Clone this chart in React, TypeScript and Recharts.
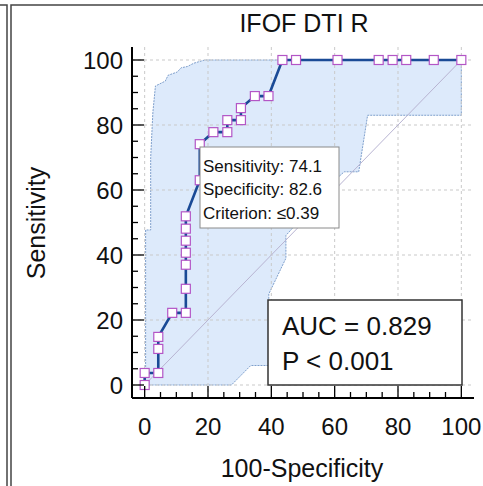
import React from 'react';
import { ComposedChart, Area, Line, XAxis, YAxis, ReferenceLine } from 'recharts';

// ROC points (100-Specificity, Sensitivity)
const rocX = [0, 0, 4.3, 4.3, 4.3, 8.7, 13.0, 13.0, 13.0, 13.0, 13.0, 13.0, 13.0, 17.4, 17.4, 21.7, 26.1, 26.1, 30.4, 30.4, 34.8, 39.1, 43.5, 47.8, 60.9, 73.9, 78.3, 82.6, 91.3, 100];
const rocY = [0, 3.7, 3.7, 11.1, 14.8, 22.2, 22.2, 29.6, 37.0, 40.7, 44.4, 48.1, 51.9, 63.0, 74.1, 77.8, 77.8, 81.5, 81.5, 85.2, 88.9, 88.9, 100, 100, 100, 100, 100, 100, 100, 100];

// 95% confidence band
const bandX = [0.3, 0.3, 1.9, 1.9, 2.6, 3.4, 6.5, 7.4, 10.3, 11.5, 13.5, 15.5, 19, 27.4, 33.5, 39.2, 39.2, 44.6, 44.6, 61.2, 63, 67.6, 70.4, 100, 100];
const bandLow = [0, 0, 0, 0, 0, 0, 0, 0, 0, 0, 0, 0, 0, 0, 6, 6, 28, 39, 46, 64, 65.6, 65.6, 83, 83, 100];
const bandHigh = [0, 47.7, 47.7, 70, 84, 92, 93.5, 95.3, 96.3, 97.6, 98, 99, 100, 100, 100, 100, 100, 100, 100, 100, 100, 100, 100, 100, 100];

const axisTicks = [0, 5, 10, 15, 20, 25, 30, 35, 40, 45, 50, 55, 60, 65, 70, 75, 80, 85, 90, 95, 100];
const gridValues = [0, 20, 40, 60, 80, 100];

const rocData = rocX.map((x, i) => ({ x, y: rocY[i] }));
const bandData = bandX.map((x, i) => ({ x, band: [bandLow[i], bandHigh[i]] }));

const FONT = '"Liberation Sans", Arial, sans-serif';

const XTick = (props: any) => {
  const { x, y, payload } = props;
  const major = payload.value % 20 === 0;
  return (
    <g>
      <line x1={x} x2={x} y1={y} y2={y - (major ? 12 : 6)} stroke="#000" strokeWidth={1.3} />
      {major && (
        <text x={x} y={y + 37} textAnchor="middle" fontSize={24} fontFamily={FONT} fill="#111">
          {payload.value}
        </text>
      )}
    </g>
  );
};

const YTick = (props: any) => {
  const { x, y, payload } = props;
  const major = payload.value % 20 === 0;
  return (
    <g>
      <line x1={x} x2={x + (major ? 12 : 6)} y1={y} y2={y} stroke="#000" strokeWidth={1.3} />
      {major && (
        <text x={x - 9} y={y + 8.5} textAnchor="end" fontSize={24} fontFamily={FONT} fill="#111">
          {payload.value}
        </text>
      )}
    </g>
  );
};

const SquareDot = (props: any) => {
  const { cx, cy, index } = props;
  return (
    <rect key={`d-${index}`} x={cx - 4.5} y={cy - 4.5} width={9} height={9} fill="#fff" stroke="#b356c6" strokeWidth={1.2} />
  );
};

export default function App() {
  return (
    <div style={{ position: 'absolute', left: 0, top: 0, width: 483, height: 486, background: '#fff' }}>
      <ComposedChart width={483} height={486} margin={{ top: 47, right: 9, left: 0, bottom: 0 }}>
        <XAxis
          type="number"
          dataKey="x"
          domain={[-4, 104]}
          ticks={axisTicks}
          interval={0}
          tickSize={0}
          tickMargin={0}
          tickLine={false}
          tick={<XTick />}
          axisLine={{ stroke: '#000', strokeWidth: 2 }}
          height={88}
          allowDuplicatedCategory={false}
        />
        <YAxis
          type="number"
          domain={[-4, 104]}
          ticks={axisTicks}
          interval={0}
          tickSize={0}
          tickMargin={0}
          tickLine={false}
          tick={<YTick />}
          axisLine={{ stroke: '#000', strokeWidth: 2 }}
          width={132}
        />
        <Area
          data={bandData}
          dataKey="band"
          type="linear"
          fill="#d9e8fb"
          fillOpacity={0.9}
          stroke="#7e9fcc"
          strokeWidth={1}
          strokeDasharray="2 1"
          isAnimationActive={false}
          dot={false}
          activeDot={false}
        />
        {gridValues.map((v) => (
          <ReferenceLine key={`gy-${v}`} y={v} stroke="#c9c9c9" strokeDasharray="3 3" strokeWidth={1} />
        ))}
        {gridValues.map((v) => (
          <ReferenceLine key={`gx-${v}`} x={v} stroke="#c9c9c9" strokeDasharray="3 3" strokeWidth={1} />
        ))}
        <ReferenceLine segment={[{ x: 0, y: 0 }, { x: 100, y: 100 }]} stroke="#b8b4d2" strokeWidth={1} />
        <Line
          data={rocData}
          dataKey="y"
          type="linear"
          stroke="#1a4a96"
          strokeWidth={2.6}
          dot={<SquareDot />}
          activeDot={false}
          isAnimationActive={false}
        />
      </ComposedChart>

      <svg width={483} height={486} style={{ position: 'absolute', left: 0, top: 0, pointerEvents: 'none' }}>
        <g stroke="#444" strokeWidth={1.5} fill="none">
          <polyline points="0,5 7,5 7,486" />
          <polyline points="483,5 11,5 11,486" />
        </g>
        <text x={304} y={32} textAnchor="middle" fontSize={25} fontFamily={FONT} fill="#111">IFOF DTI R</text>
        <text x={302} y={477} textAnchor="middle" fontSize={25} fontFamily={FONT} fill="#111">100-Specificity</text>
        <text transform="translate(45,223) rotate(-90)" textAnchor="middle" fontSize={25} fontFamily={FONT} fill="#111">Sensitivity</text>

        <rect x={200} y={147} width={139} height={81} fill="#fff" stroke="#8a8a8a" strokeWidth={1} />
        <g fontSize={17} fontFamily={FONT} fill="#111">
          <text x={203} y={172}>Sensitivity: 74.1</text>
          <text x={203} y={195}>Specificity: 82.6</text>
          <text x={203} y={218.5}>Criterion: ≤0.39</text>
        </g>

        <rect x={268} y={300} width={194} height={85} fill="#fff" stroke="#333" strokeWidth={1.5} />
        <g fontSize={26} fontFamily={FONT} fill="#111">
          <text x={282} y={335}>AUC = 0.829</text>
          <text x={282} y={370}>P &lt; 0.001</text>
        </g>
      </svg>
    </div>
  );
}
